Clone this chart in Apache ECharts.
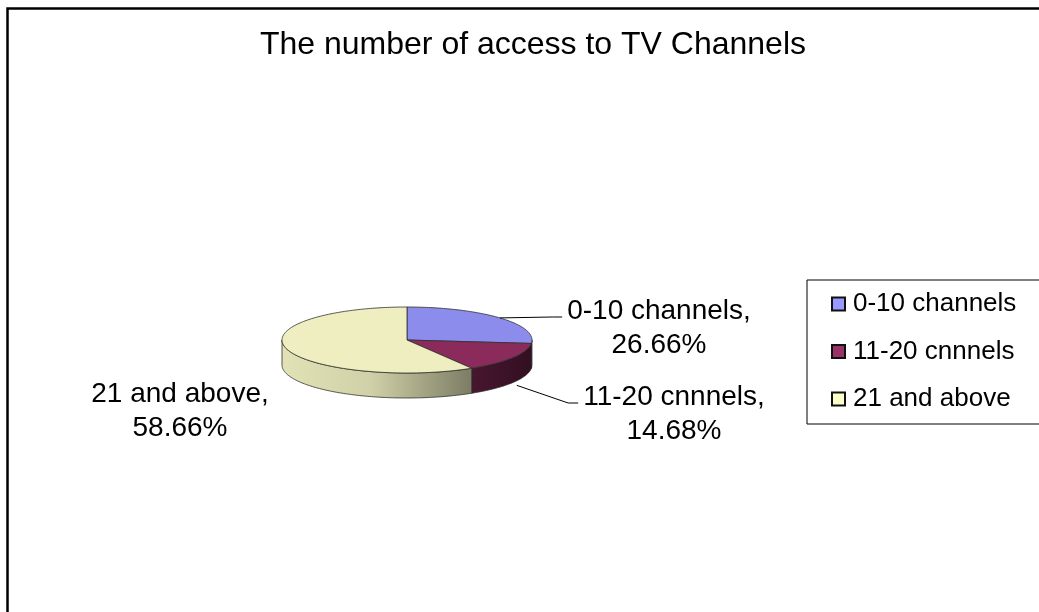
<!DOCTYPE html>
<html>
<head>
<meta charset="utf-8">
<script src="https://cdn.jsdelivr.net/npm/echarts@6/dist/echarts.min.js"></script>
<style>
  html, body { margin: 0; padding: 0; background: #fff; }
  #chart { width: 1039px; height: 612px; }
</style>
</head>
<body>
<div id="chart"></div>
<script>
// Chart content
const TITLE = 'The number of access to TV Channels';
const CATEGORIES = ['0-10 channels', '11-20 cnnnels', '21 and above'];
const SHARES = [26.66, 14.68, 58.66];

// Colours: legend swatches and the lit top faces of the pie
const LEGEND_COLORS = ['#9999FF', '#993366', '#FFFFCC'];
const TOP_COLORS = ['#8C8CEC', '#8B2B5B', '#EEEEC0'];

// Tilted pie geometry (pixels)
const PIE = { cx: 407, cy: 340, rx: 125, ry: 33, depth: 25 };

// Data label blocks: centre of the two-line block, and whether a leader line is drawn
const LABEL_LAYOUT = [
  { x: 659, y: 328, leader: true },
  { x: 674, y: 414, leader: true },
  { x: 180, y: 411, leader: false }
];

const FONT_FAMILY = '"Liberation Sans", Arial, sans-serif';
const LABEL_SIZE = 28;
const LABEL_LINE = 34;

function shade(hex, f) {
  const n = parseInt(hex.slice(1), 16);
  const r = Math.round(((n >> 16) & 255) * f);
  const g = Math.round(((n >> 8) & 255) * f);
  const b = Math.round((n & 255) * f);
  return 'rgb(' + r + ',' + g + ',' + b + ')';
}

const measureCtx = document.createElement('canvas').getContext('2d');
function textWidth(str, size) {
  measureCtx.font = size + 'px ' + FONT_FAMILY;
  return measureCtx.measureText(str).width;
}

// angle in degrees, clockwise from 12 o'clock
function rim(deg, dy, sx, sy) {
  const t = deg * Math.PI / 180;
  return [PIE.cx + PIE.rx * (sx || 1) * Math.sin(t),
          PIE.cy - PIE.ry * (sy || 1) * Math.cos(t) + (dy || 0)];
}

function arcPoints(a, b, dy) {
  const pts = [];
  const steps = Math.max(2, Math.ceil((b - a) / 1));
  for (let k = 0; k <= steps; k++) pts.push(rim(a + (b - a) * k / steps, dy));
  return pts;
}

function makeRenderer(i) {
  return function (params, api) {
    const total = SHARES.reduce((s, v) => s + v, 0);
    const before = SHARES.slice(0, i).reduce((s, v) => s + v, 0);
    const value = api.value(0);
    const a = before / total * 360;
    const b = a + value / total * 360;
    const children = [];
    const edge = { stroke: '#2e2e2e', lineWidth: 0.8, lineJoin: 'round' };

    // visible outer wall (front half of the ellipse)
    const sa = Math.max(a, 90), sb = Math.min(b, 270);
    if (sb > sa) {
      const top = arcPoints(sa, sb, 0);
      const bottom = arcPoints(sa, sb, PIE.depth).reverse();
      const base = TOP_COLORS[i];
      const grad = new echarts.graphic.LinearGradient(PIE.cx - PIE.rx, 0, PIE.cx + PIE.rx, 0, [
        { offset: 0, color: shade(base, 0.95) },
        { offset: 0.35, color: shade(base, 0.88) },
        { offset: 0.76, color: shade(base, 0.52) },
        { offset: 1, color: shade(base, 0.36) }
      ], true);
      children.push({
        type: 'polygon',
        shape: { points: top.concat(bottom) },
        style: Object.assign({ fill: grad }, edge)
      });
    }

    // top face
    children.push({
      type: 'polygon',
      shape: { points: [[PIE.cx, PIE.cy]].concat(arcPoints(a, b, 0)) },
      style: Object.assign({ fill: TOP_COLORS[i] }, edge)
    });

    // data label
    const lay = LABEL_LAYOUT[i];
    const line1 = CATEGORIES[i] + ',';
    const line2 = value.toFixed(2) + '%';
    children.push({
      type: 'text',
      x: lay.x, y: lay.y,
      style: {
        text: line1 + '\n' + line2,
        fontSize: LABEL_SIZE, fontFamily: FONT_FAMILY, fill: '#000',
        align: 'center', verticalAlign: 'middle', lineHeight: LABEL_LINE
      }
    });

    if (lay.leader) {
      const mid = (a + b) / 2;
      const front = mid > 90 && mid < 270;
      const anchor = front ? rim(mid, PIE.depth, 1.04, 1.15) : rim(mid, 0);
      const w = Math.max(textWidth(line1, LABEL_SIZE), textWidth(line2, LABEL_SIZE));
      const left = lay.x - w / 2;
      const endY = lay.y - LABEL_LINE / 2 + 6;
      children.push({
        type: 'polyline',
        shape: { points: [anchor, [left - 15, endY], [left - 5, endY]] },
        style: { stroke: '#000', lineWidth: 1, fill: null }
      });
    }

    return { type: 'group', children: children };
  };
}

const chart = echarts.init(document.getElementById('chart'), null, { renderer: 'canvas' });

chart.setOption({
  animation: false,
  backgroundColor: '#fff',
  graphic: [
    {
      type: 'rect',
      shape: { x: 7.5, y: 8.5, width: 1200, height: 800 },
      style: { fill: 'none', stroke: '#000', lineWidth: 2.5 },
      z: 0
    },
    {
      type: 'text',
      x: 533, y: 45,
      style: {
        text: TITLE, fontSize: 32, fontFamily: FONT_FAMILY, fill: '#000',
        align: 'center', verticalAlign: 'middle'
      },
      z: 1
    }
  ],
  legend: {
    data: CATEGORIES,
    orient: 'vertical',
    left: 807, top: 280,
    padding: [11, 120, 12, 24],
    itemGap: 21.5,
    itemWidth: 13, itemHeight: 13,
    icon: 'rect',
    borderColor: '#000', borderWidth: 1,
    itemStyle: { borderColor: '#111', borderWidth: 2 },
    textStyle: { fontSize: 26, fontFamily: FONT_FAMILY, color: '#000', padding: [0, 0, 0, 3] }
  },
  series: CATEGORIES.map((name, i) => ({
    type: 'custom',
    name: name,
    coordinateSystem: 'none',
    itemStyle: { color: LEGEND_COLORS[i] },
    data: [[SHARES[i]]],
    renderItem: makeRenderer(i)
  }))
});
</script>
</body>
</html>
